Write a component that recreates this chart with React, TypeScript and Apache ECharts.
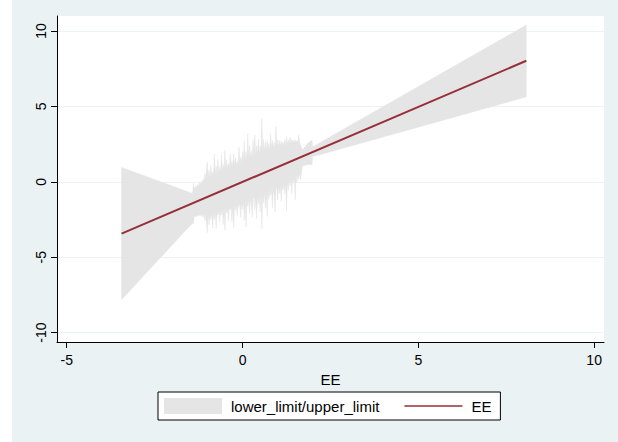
import React, { useEffect, useRef } from "react";
import * as echarts from "echarts";

// Confidence band (lower_limit / upper_limit), sorted by EE
const bandX = [
  -3.44, -1.42,
  -1.4, -1.375, -1.35, -1.325, -1.3, -1.275, -1.25, -1.225, -1.2, -1.175, -1.15, -1.125, -1.1, -1.075, -1.05, -1.025,
  -1.0, -0.975, -0.95, -0.925, -0.9, -0.875, -0.85, -0.825, -0.8, -0.775, -0.75, -0.725, -0.7, -0.675, -0.65, -0.625,
  -0.6, -0.575, -0.55, -0.525, -0.5, -0.475, -0.45, -0.425, -0.4, -0.375, -0.35, -0.325, -0.3, -0.275, -0.25, -0.225,
  -0.2, -0.175, -0.15, -0.125, -0.1, -0.075, -0.05, -0.025, 0.0, 0.025, 0.05, 0.075, 0.1, 0.125, 0.15, 0.175,
  0.2, 0.225, 0.25, 0.275, 0.3, 0.325, 0.35, 0.375, 0.4, 0.425, 0.45, 0.475, 0.5, 0.525, 0.55, 0.575,
  0.6, 0.625, 0.65, 0.675, 0.7, 0.725, 0.75, 0.775, 0.8, 0.825, 0.85, 0.875, 0.9, 0.925, 0.95, 0.975,
  1.0, 1.025, 1.05, 1.075, 1.1, 1.125, 1.15, 1.175, 1.2, 1.225, 1.25, 1.275, 1.3, 1.325, 1.35, 1.375,
  1.4, 1.425, 1.45, 1.475, 1.5, 1.525, 1.55, 1.575, 1.6, 1.625, 1.65,
  1.7, 1.85, 1.98, 1.99, 8.07,
];
const bandLower = [
  -7.81, -2.72,
  -2.8, -2.33, -2.25, -2.33, -2.25, -2.18, -2.3, -2.18, -2.2, -2.28, -2.1, -2.33, -2.1, -2.58, -2.15, -2.83,
  -3.38, -2.18, -2.85, -2.23, -2.5, -2.08, -3.05, -2.13, -2.5, -1.98, -3.1, -2.03, -2.2, -1.93, -2.65, -1.93,
  -2.2, -1.78, -2.85, -1.83, -3.2, -1.73, -2.05, -1.78, -2.6, -1.68, -1.85, -1.68, -2.7, -1.58, -3.05, -1.48,
  -1.9, -1.53, -2.25, -1.43, -1.7, -1.38, -2.35, -1.38, -1.8, -1.28, -2.55, -1.23, -3.0, -1.23, -1.65, -1.13,
  -2.1, -1.13, -1.45, -2.33, -1.1, -0.98, -1.85, -0.98, -2.44, -0.88, -1.45, -0.88, -2.0, -0.78, -3.1, -0.78,
  -1.4, -0.68, -1.75, -0.68, -2.3, -0.58, -1.15, -0.58, -0.9, -0.48, -1.75, -0.48, -0.9, -2.0, -0.55, -0.33,
  -1.2, -0.33, -0.75, -0.23, -1.3, -0.23, -0.55, -0.13, -0.8, -0.08, -1.89, 0.03, -0.6, 0.03, -0.25, 0.13,
  -0.8, 0.23, -0.05, 0.28, -1.2, 0.43, -0.05, 0.48, 0.2, 0.63, 0.1,
  1.05, 1.15, 1.15, 1.66, 5.64,
];
const bandUpper = [
  0.96, -0.77,
  -0.1, -0.43, -0.35, -0.28, -0.35, -0.18, -0.25, -0.08, -0.2, 0.03, -0.1, 0.18, 0.0, 0.53, 0.15, 0.88,
  1.3, 0.33, 0.75, 0.28, 1.1, 0.43, 0.65, 0.38, 1.85, 0.53, 1.05, 0.53, 1.5, 0.63, 0.95, 0.63,
  1.8, 0.73, 1.15, 0.83, 2.1, 0.83, 1.45, 0.83, 1.2, 0.98, 1.85, 0.98, 1.4, 1.08, 1.85, 1.08,
  1.6, 1.13, 1.35, 1.23, 2.3, 1.23, 1.65, 1.28, 2.0, 1.38, 2.75, 1.38, 2.0, 1.48, 3.2, 1.48,
  2.4, 1.63, 2.05, 1.58, 2.8, 1.68, 3.1, 1.68, 2.4, 1.83, 2.85, 1.83, 2.4, 1.93, 4.2, 1.93,
  2.8, 2.03, 2.65, 2.03, 2.8, 2.13, 2.55, 2.13, 3.2, 2.23, 2.75, 2.23, 2.6, 2.23, 3.7, 2.33,
  2.8, 2.33, 2.75, 2.43, 2.7, 2.43, 2.65, 2.43, 2.8, 2.48, 3.0, 2.48, 2.8, 2.53, 2.95, 2.58,
  2.8, 2.58, 2.8, 2.58, 2.8, 2.63, 2.75, 2.63, 3.1, 2.63, 2.45,
  2.1, 2.55, 2.77, 2.32, 10.4,
];

// Fitted line EE
const eeX = [-3.44, 8.07];
const eeY = [-3.43, 8.03];

const xTicks = [-5, 0, 5, 10];
const yTicks = [-10, -5, 0, 5, 10];

const FONT = "'Liberation Sans', Arial, Helvetica, sans-serif";
const LINE_COLOR = "#952f3a";
const BAND_COLOR = "#e5e5e5";

export default function App() {
  const ref = useRef<HTMLDivElement>(null);
  useEffect(() => {
    if (!ref.current) return;
    const chart = echarts.init(ref.current, undefined, { renderer: "svg" });
    const axisCommon = {
      type: "value" as const,
      axisLine: { show: true, onZero: false, lineStyle: { color: "#000", width: 1 } },
      axisTick: { show: true, length: 6, lineStyle: { color: "#000" } },
    };
    chart.setOption({
      animation: false,
      textStyle: { fontFamily: FONT },
      grid: {
        left: 57,
        right: 14,
        top: 16,
        bottom: 100,
        show: true,
        backgroundColor: "#ffffff",
        borderWidth: 0,
      },
      xAxis: {
        ...axisCommon,
        min: -5.276,
        max: 10.28,
        name: "EE",
        nameLocation: "middle",
        nameGap: 24,
        nameTextStyle: { fontSize: 15, color: "#000", fontFamily: FONT },
        axisTick: { ...axisCommon.axisTick, customValues: xTicks },
        axisLabel: { customValues: xTicks, fontSize: 14, color: "#000", margin: 11, fontFamily: FONT },
        splitLine: { show: false },
      },
      yAxis: {
        ...axisCommon,
        min: -10.62,
        max: 11.0,
        axisTick: { ...axisCommon.axisTick, customValues: yTicks },
        axisLabel: { customValues: yTicks, fontSize: 14, color: "#000", rotate: 90, margin: 9, fontFamily: FONT },
        splitLine: { show: true, lineStyle: { color: "#eaf2f3", width: 1 } },
      },
      legend: {
        left: 158,
        top: 392,
        orient: "horizontal",
        padding: [6, 9, 6, 6],
        borderColor: "#000",
        borderWidth: 1,
        backgroundColor: "#fff",
        itemWidth: 58,
        itemHeight: 16,
        itemGap: 25,
        textStyle: { fontSize: 15, color: "#000", fontFamily: FONT, padding: [0, 0, 0, 4] },
        data: [
          { name: "lower_limit/upper_limit", icon: "rect", itemStyle: { color: BAND_COLOR } },
          {
            name: "EE",
            icon: "path://M0,0 L0.01,0 L0.01,0.01 Z M0,7.2 L58,7.2 L58,8.8 L0,8.8 Z M58,16 L57.99,16 L57.99,15.99 Z",
            itemStyle: { color: LINE_COLOR },
          },
        ],
      },
      series: [
        {
          name: "lower_limit/upper_limit",
          type: "custom",
          itemStyle: { color: BAND_COLOR },
          data: [[bandX[0], bandUpper[0]]],
          renderItem: (_params: any, api: any) => {
            const pts: number[][] = [];
            for (let i = 0; i < bandX.length; i++) pts.push(api.coord([bandX[i], bandUpper[i]]));
            for (let i = bandX.length - 1; i >= 0; i--) pts.push(api.coord([bandX[i], bandLower[i]]));
            return {
              type: "polygon",
              shape: { points: pts },
              style: { fill: BAND_COLOR, stroke: BAND_COLOR, lineWidth: 0.5 },
            };
          },
          z: 2,
        },
        {
          name: "EE",
          type: "line",
          data: eeX.map((x, i) => [x, eeY[i]]),
          symbol: "none",
          lineStyle: { color: LINE_COLOR, width: 2 },
          itemStyle: { color: LINE_COLOR },
          z: 3,
        },
      ],
    });
    return () => chart.dispose();
  }, []);
  return (
    <div
      ref={ref}
      style={{
        position: "fixed",
        left: 0,
        top: 0,
        width: 618,
        height: 442,
        background: "linear-gradient(to right, #ffffff 0px, #ffffff 12px, #eaf2f3 12px)",
      }}
    />
  );
}
